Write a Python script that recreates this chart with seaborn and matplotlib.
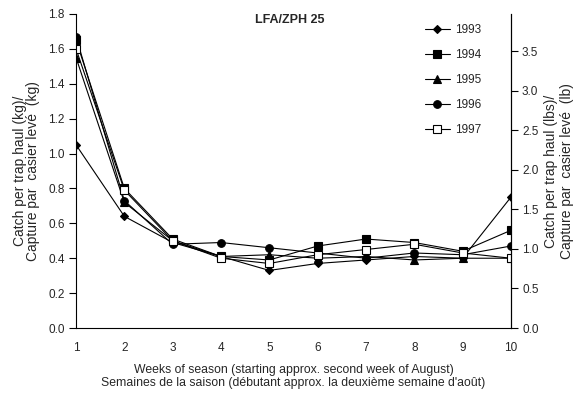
import matplotlib
matplotlib.use("Agg")
import matplotlib.pyplot as plt
import seaborn as sns
import pandas as pd

weeks = [1, 2, 3, 4, 5, 6, 7, 8, 9, 10]
y1993 = [1.05, 0.64, 0.49, 0.41, 0.33, 0.37, 0.39, 0.41, 0.40, 0.75]
y1994 = [1.65, 0.80, 0.51, 0.41, 0.39, 0.47, 0.51, 0.49, 0.44, 0.56]
y1995 = [1.55, 0.72, 0.50, 0.41, 0.42, 0.40, 0.41, 0.39, 0.40, 0.40]
y1996 = [1.67, 0.73, 0.48, 0.49, 0.46, 0.43, 0.40, 0.43, 0.42, 0.47]
y1997 = [1.60, 0.79, 0.50, 0.40, 0.37, 0.42, 0.45, 0.48, 0.43, 0.40]
years = ["1993", "1994", "1995", "1996", "1997"]
series = [y1993, y1994, y1995, y1996, y1997]

sns.set_style("white")
plt.rcParams['font.family'] = ['Liberation Sans', 'DejaVu Sans']
plt.rcParams['font.size'] = 8.5

fig = plt.figure(figsize=(5.76, 3.94), dpi=100)
ax = fig.add_axes([0.132, 0.1675, 0.755, 0.797])

styles = [
    dict(marker='D', markersize=4.5, markerfacecolor='black'),
    dict(marker='s', markersize=6, markerfacecolor='black'),
    dict(marker='^', markersize=5.5, markerfacecolor='black'),
    dict(marker='o', markersize=5.5, markerfacecolor='black'),
    dict(marker='s', markersize=6, markerfacecolor='white'),
]
for yr, vals, st in zip(years, series, styles):
    df = pd.DataFrame({"week": weeks, "catch": vals})
    sns.lineplot(data=df, x="week", y="catch", ax=ax, color='black', linewidth=0.8,
                 markeredgecolor='black', markeredgewidth=0.8, label=yr, **st)

ax.set_xlim(1, 10)
ax.set_ylim(0, 1.8)
ax.set_xticks(weeks)
ax.set_yticks([0.0, 0.2, 0.4, 0.6, 0.8, 1.0, 1.2, 1.4, 1.6, 1.8])
ax.set_yticklabels([f"{v:.1f}" for v in ax.get_yticks()])
for s in ['left', 'bottom', 'right']:
    ax.spines[s].set_visible(True)
    ax.spines[s].set_color('black')
    ax.spines[s].set_linewidth(0.8)
ax.spines['top'].set_visible(False)
ax.tick_params(axis='y', direction='out', length=5, width=0.8, color='black', labelsize=8.5, pad=3)
ax.tick_params(axis='x', direction='inout', length=6, width=0.8, color='black', labelsize=8.5, pad=7)
ax.set_xlabel("Weeks of season (starting approx. second week of August)\n"
              "Semaines de la saison (débutant approx. la deuxième semaine d'août)",
              fontsize=8.8, labelpad=7, linespacing=1.1)
ax.set_ylabel("Catch per trap haul (kg)/\nCapture par  casier levé  (kg)", fontsize=10,
              labelpad=6, linespacing=0.95)

ax2 = ax.twinx()
ax2.set_ylim(0, 1.8 * 2.20462)
ax2.set_yticks([0.0, 0.5, 1.0, 1.5, 2.0, 2.5, 3.0, 3.5])
ax2.set_yticklabels([f"{v:.1f}" for v in ax2.get_yticks()])
for s in ['left', 'bottom', 'top']:
    ax2.spines[s].set_visible(False)
ax2.spines['right'].set_color('black')
ax2.spines['right'].set_linewidth(0.8)
ax2.tick_params(axis='y', direction='out', length=5, width=0.8, color='black', labelsize=8.5, pad=3)
ax2.set_ylabel("Catch per trap haul (lbs)/\nCapture par  casier levé  (lb)", fontsize=10,
               labelpad=4, linespacing=1.15)

ax.text(0.492, 0.98, "LFA/ZPH 25", transform=ax.transAxes, ha='center', va='center',
        fontsize=9, fontweight='bold')

leg = ax.legend(loc='upper left', bbox_to_anchor=(0.802, 0.968), frameon=False,
                fontsize=8.5, labelspacing=1.1, handlelength=2.1, handletextpad=0.42,
                borderpad=0, borderaxespad=0)

fig.savefig("out.png", dpi=100)
